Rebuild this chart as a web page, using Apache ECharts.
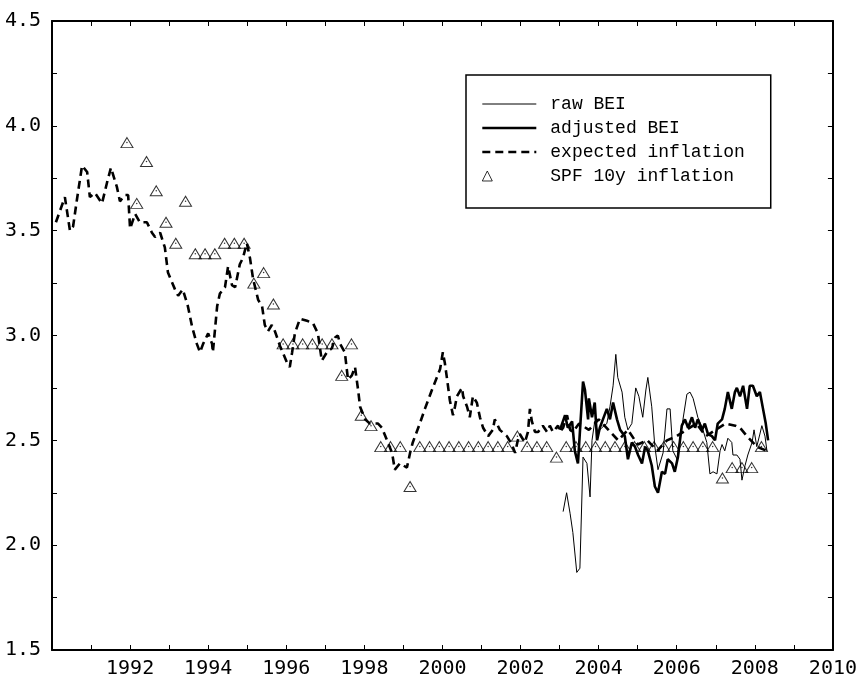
<!DOCTYPE html>
<html>
<head>
<meta charset="utf-8">
<script src="https://cdn.jsdelivr.net/npm/echarts@6/dist/echarts.min.js"></script>
<style>
html,body{margin:0;padding:0;background:#fff;}
#c{width:860px;height:681px;}
</style>
</head>
<body>
<div id="c"></div>
<script>
// ---- data ----
const expYears = [1990.10,1990.33,1990.46,1990.54,1990.64,1990.77,1990.90,1990.97,1991.10,1991.28,1991.41,1991.51,1991.66,1991.74,1991.87,1991.95,1992.00,1992.13,1992.25,1992.43,1992.56,1992.64,1992.77,1992.89,1992.97,1993.15,1993.23,1993.35,1993.48,1993.59,1993.71,1993.79,1993.87,1994.00,1994.10,1994.12,1994.23,1994.30,1994.43,1994.51,1994.61,1994.69,1994.81,1994.89,1994.99,1995.07,1995.15,1995.28,1995.38,1995.45,1995.53,1995.63,1995.71,1995.84,1996.02,1996.09,1996.15,1996.22,1996.35,1996.53,1996.68,1996.81,1996.91,1997.04,1997.17,1997.25,1997.32,1997.38,1997.50,1997.58,1997.68,1997.76,1997.84,1997.89,1998.02,1998.14,1998.35,1998.45,1998.58,1998.71,1998.78,1998.91,1999.09,1999.17,1999.24,1999.42,1999.55,1999.73,1999.94,2000.01,2000.06,2000.12,2000.19,2000.27,2000.32,2000.37,2000.50,2000.53,2000.63,2000.70,2000.78,2000.88,2000.96,2001.04,2001.17,2001.29,2001.34,2001.47,2001.65,2001.78,2001.86,2001.93,2001.98,2002.11,2002.19,2002.24,2002.29,2002.37,2002.45,2002.57,2002.68,2002.75,2002.83,2002.96,2003.01,2003.09,2003.19,2003.27,2003.34,2003.50,2003.75,2004.00,2004.25,2004.50,2004.75,2005.00,2005.25,2005.50,2005.75,2006.00,2006.25,2006.50,2006.75,2007.00,2007.25,2007.50,2007.62,2007.80,2008.05,2008.30];
const expValues = [3.54,3.66,3.50,3.52,3.65,3.81,3.78,3.66,3.68,3.63,3.73,3.80,3.71,3.64,3.67,3.67,3.51,3.58,3.54,3.54,3.49,3.47,3.49,3.42,3.30,3.22,3.19,3.22,3.14,3.04,2.96,2.92,2.96,3.01,2.96,2.92,3.14,3.20,3.23,3.33,3.24,3.23,3.34,3.37,3.44,3.37,3.27,3.17,3.14,3.05,3.02,3.05,3.02,2.95,2.87,2.85,2.92,3.01,3.08,3.07,3.06,3.01,2.88,2.92,2.94,2.99,3.00,2.96,2.92,2.79,2.81,2.85,2.74,2.66,2.60,2.58,2.58,2.56,2.50,2.44,2.36,2.39,2.37,2.44,2.49,2.58,2.65,2.74,2.84,2.92,2.87,2.79,2.69,2.62,2.66,2.71,2.75,2.71,2.66,2.61,2.71,2.68,2.61,2.56,2.52,2.55,2.60,2.55,2.52,2.48,2.44,2.50,2.53,2.49,2.54,2.65,2.59,2.54,2.54,2.57,2.54,2.57,2.54,2.57,2.54,2.56,2.62,2.55,2.54,2.58,2.55,2.60,2.55,2.50,2.55,2.48,2.50,2.45,2.50,2.52,2.55,2.58,2.52,2.55,2.58,2.57,2.56,2.52,2.47,2.45];

const spfYears = [1991.92,1992.17,1992.42,1992.67,1992.92,1993.17,1993.42,1993.67,1993.92,1994.17,1994.42,1994.67,1994.92,1995.17,1995.42,1995.67,1995.92,1996.17,1996.42,1996.67,1996.92,1997.17,1997.42,1997.67,1997.92,1998.17,1998.42,1998.67,1998.92,1999.17,1999.42,1999.67,1999.92,2000.17,2000.42,2000.67,2000.92,2001.17,2001.42,2001.67,2001.92,2002.17,2002.42,2002.67,2002.92,2003.17,2003.42,2003.67,2003.92,2004.17,2004.42,2004.67,2004.92,2005.17,2005.42,2005.67,2005.92,2006.17,2006.42,2006.67,2006.92,2007.17,2007.42,2007.67,2007.92,2008.17];
const spfValues = [3.92,3.63,3.83,3.69,3.54,3.44,3.64,3.39,3.39,3.39,3.44,3.44,3.44,3.25,3.30,3.15,2.96,2.96,2.96,2.96,2.96,2.96,2.81,2.96,2.62,2.57,2.47,2.47,2.47,2.28,2.47,2.47,2.47,2.47,2.47,2.47,2.47,2.47,2.47,2.47,2.52,2.47,2.47,2.47,2.42,2.47,2.47,2.47,2.47,2.47,2.47,2.47,2.47,2.47,2.47,2.47,2.47,2.47,2.47,2.47,2.47,2.32,2.37,2.37,2.37,2.47];

const rawYears = [2003.09,2003.18,2003.27,2003.34,2003.44,2003.52,2003.60,2003.65,2003.70,2003.78,2003.83,2003.90,2003.98,2004.08,2004.21,2004.29,2004.37,2004.44,2004.49,2004.60,2004.67,2004.75,2004.85,2004.95,2005.03,2005.13,2005.21,2005.26,2005.36,2005.44,2005.52,2005.65,2005.75,2005.83,2005.90,2006.01,2006.08,2006.16,2006.26,2006.34,2006.42,2006.54,2006.67,2006.77,2006.85,2006.93,2007.03,2007.11,2007.16,2007.23,2007.31,2007.41,2007.44,2007.54,2007.62,2007.67,2007.75,2007.82,2007.93,2007.98,2008.05,2008.13,2008.18,2008.26,2008.31];
const rawValues = [2.16,2.25,2.15,2.06,1.87,1.89,2.42,2.42,2.39,2.23,2.50,2.59,2.54,2.56,2.58,2.66,2.76,2.91,2.80,2.73,2.61,2.55,2.58,2.75,2.71,2.61,2.74,2.80,2.66,2.47,2.36,2.44,2.65,2.65,2.45,2.41,2.50,2.60,2.72,2.73,2.70,2.61,2.55,2.49,2.34,2.35,2.34,2.45,2.48,2.45,2.51,2.49,2.43,2.43,2.41,2.31,2.38,2.43,2.49,2.55,2.47,2.53,2.57,2.52,2.45];

const adjYears = [2003.01,2003.14,2003.21,2003.32,2003.39,2003.47,2003.60,2003.65,2003.73,2003.75,2003.83,2003.90,2003.96,2004.03,2004.11,2004.21,2004.29,2004.37,2004.47,2004.55,2004.67,2004.75,2004.85,2004.93,2005.01,2005.11,2005.19,2005.26,2005.36,2005.44,2005.52,2005.62,2005.70,2005.77,2005.88,2005.95,2006.03,2006.13,2006.21,2006.29,2006.39,2006.47,2006.54,2006.65,2006.72,2006.80,2006.90,2006.98,2007.05,2007.16,2007.23,2007.31,2007.41,2007.49,2007.54,2007.62,2007.70,2007.80,2007.87,2007.95,2008.05,2008.13,2008.21,2008.28,2008.34];
const adjValues = [2.55,2.62,2.56,2.59,2.45,2.39,2.78,2.74,2.60,2.70,2.61,2.68,2.50,2.56,2.60,2.65,2.60,2.68,2.60,2.55,2.52,2.41,2.49,2.47,2.43,2.39,2.47,2.45,2.38,2.28,2.25,2.35,2.34,2.41,2.39,2.35,2.42,2.57,2.60,2.56,2.61,2.56,2.60,2.55,2.58,2.53,2.52,2.50,2.58,2.60,2.65,2.73,2.65,2.73,2.75,2.71,2.76,2.65,2.76,2.76,2.71,2.73,2.65,2.58,2.50];

const seriesNames = ['raw BEI','adjusted BEI','expected inflation','SPF 10y inflation'];
const xTickYears = [1990, 2010, 2];   // min, max, step
const yTicks = [1.5, 4.5, 0.5];       // min, max, step

// ---- build ----
const pair = (xs, ys) => xs.map((x, i) => [x, ys[i]]);
const chart = echarts.init(document.getElementById('c'), null, {renderer: 'canvas'});

const axisLine = {show: true, lineStyle: {color: '#000', width: 2}};
const tick = {show: true, inside: true, length: 5, lineStyle: {color: '#000', width: 1}};
const minor = {show: true, splitNumber: 2, length: 5, lineStyle: {color: '#000', width: 1}};

const xBase = {type: 'value', min: xTickYears[0], max: xTickYears[1], interval: xTickYears[2],
  axisLine, axisTick: tick, minorTick: minor, splitLine: {show: false}, minorSplitLine: {show: false}};
const yBase = {type: 'value', min: yTicks[0], max: yTicks[1], interval: yTicks[2],
  axisLine, axisTick: tick, minorTick: minor, splitLine: {show: false}, minorSplitLine: {show: false}};

const noSym = {opacity: 0};
const THIN = 1, THICK = 2.6;

const option = {
  animation: false,
  backgroundColor: '#fff',
  grid: {left: 52, right: 26, top: 21, bottom: 31, containLabel: false},
  xAxis: [
    Object.assign({}, xBase, {position: 'bottom',
      axisLabel: {show: true, showMinLabel: false, showMaxLabel: true, margin: 9, color: '#000',
        fontFamily: 'DejaVu Sans Mono', fontSize: 20, formatter: v => String(v)}}),
    Object.assign({}, xBase, {position: 'top', axisLabel: {show: false}})
  ],
  yAxis: [
    Object.assign({}, yBase, {position: 'left',
      axisLabel: {show: true, margin: 11, color: '#000',
        fontFamily: 'DejaVu Sans Mono', fontSize: 20, formatter: v => v.toFixed(1)}}),
    Object.assign({}, yBase, {position: 'right', axisLabel: {show: false}})
  ],
  legend: {
    orient: 'vertical', left: 466, top: 75,
    padding: [20, 26, 23, 15],
    itemWidth: 54, itemHeight: 14, itemGap: 6,
    borderColor: '#000', borderWidth: 1.5, backgroundColor: '#fff',
    textStyle: {fontFamily: 'Liberation Mono', fontSize: 18, color: '#000', padding: [0, 0, 0, 9]},
    data: [
      {name: seriesNames[0], itemStyle: noSym, lineStyle: {width: THIN, color: '#000', type: 'solid'}},
      {name: seriesNames[1], itemStyle: noSym, lineStyle: {width: THICK, color: '#000', type: 'solid'}},
      {name: seriesNames[2], itemStyle: noSym, lineStyle: {width: THICK, color: '#000', type: [8, 5]}},
      {name: seriesNames[3], icon: 'path://M0,10L5,0L10,10Z M54,10L54.01,10',
        itemStyle: {color: 'rgba(255,255,255,0)', borderColor: '#000', borderWidth: 1}}
    ]
  },
  series: [
    {name: seriesNames[3], type: 'scatter', data: pair(spfYears, spfValues),
      symbol: 'triangle', symbolSize: [12, 10], z: 2,
      itemStyle: {color: 'rgba(255,255,255,0)', borderColor: '#000', borderWidth: 1}},
    {name: 'spf-dot', type: 'scatter', data: pair(spfYears, spfValues), silent: true,
      symbol: 'circle', symbolSize: 1.5, z: 2, itemStyle: {color: '#000'}},
    {name: seriesNames[2], type: 'line', data: pair(expYears, expValues), symbol: 'none', showSymbol: false, z: 3,
      lineStyle: {color: '#000', width: THICK, type: [8, 5]}, itemStyle: {color: '#000'}},
    {name: seriesNames[0], type: 'line', data: pair(rawYears, rawValues), symbol: 'none', showSymbol: false, z: 4,
      lineStyle: {color: '#000', width: THIN}, itemStyle: {color: '#000'}},
    {name: seriesNames[1], type: 'line', data: pair(adjYears, adjValues), symbol: 'none', showSymbol: false, z: 5,
      lineStyle: {color: '#000', width: THICK}, itemStyle: {color: '#000'}}
  ]
};
chart.setOption(option);
</script>
</body>
</html>
